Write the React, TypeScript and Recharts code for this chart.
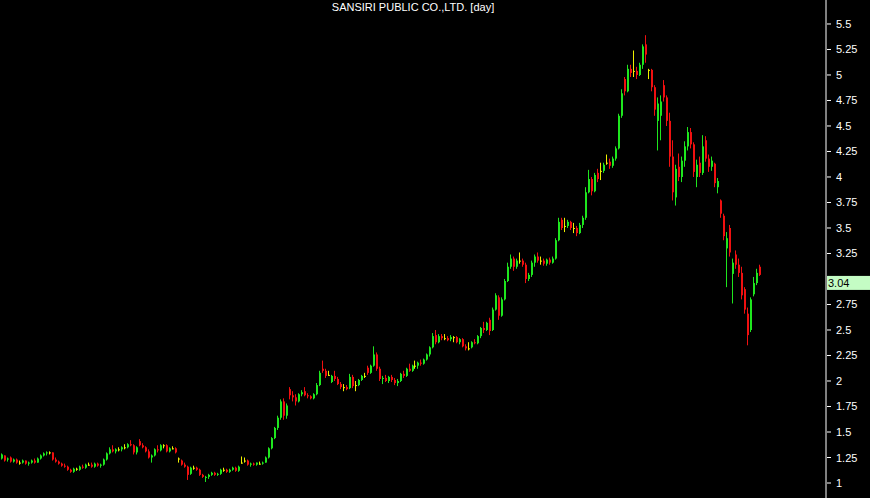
import { Bar, ComposedChart, ReferenceLine, XAxis, YAxis } from "recharts";

const title = "SANSIRI PUBLIC CO.,LTD. [day]";

const priceTicks = [1, 1.25, 1.5, 1.75, 2, 2.25, 2.5, 2.75, 3, 3.25, 3.5, 3.75, 4, 4.25, 4.5, 4.75, 5, 5.25, 5.5];

const lastPrice = 3.04;

// daily candles, one row per session: [open, high, low, close]
const candles: [number, number, number, number][] = [
  [1.24, 1.29, 1.23, 1.28], [1.27, 1.27, 1.21, 1.22], [1.23, 1.25, 1.21, 1.24], [1.25, 1.26, 1.2, 1.21], [1.21, 1.24, 1.2, 1.23],
  [1.23, 1.24, 1.19, 1.2], [1.2, 1.22, 1.18, 1.2], [1.2, 1.23, 1.19, 1.22], [1.22, 1.22, 1.18, 1.19], [1.19, 1.21, 1.17, 1.2],
  [1.2, 1.23, 1.19, 1.22], [1.22, 1.24, 1.19, 1.2], [1.2, 1.25, 1.2, 1.24], [1.24, 1.28, 1.23, 1.27], [1.27, 1.3, 1.26, 1.29],
  [1.29, 1.31, 1.27, 1.3], [1.3, 1.31, 1.28, 1.3], [1.3, 1.3, 1.22, 1.23], [1.23, 1.25, 1.2, 1.21], [1.21, 1.22, 1.18, 1.19],
  [1.19, 1.2, 1.16, 1.17], [1.17, 1.19, 1.15, 1.16], [1.16, 1.17, 1.12, 1.13], [1.13, 1.14, 1.1, 1.11], [1.11, 1.15, 1.1, 1.14],
  [1.14, 1.15, 1.12, 1.14], [1.13, 1.17, 1.12, 1.16], [1.16, 1.18, 1.14, 1.15], [1.15, 1.19, 1.14, 1.18], [1.18, 1.2, 1.17, 1.18],
  [1.18, 1.2, 1.15, 1.16], [1.16, 1.2, 1.15, 1.19], [1.19, 1.2, 1.16, 1.17], [1.17, 1.19, 1.15, 1.18], [1.18, 1.24, 1.17, 1.23],
  [1.23, 1.3, 1.22, 1.29], [1.29, 1.35, 1.28, 1.33], [1.33, 1.37, 1.3, 1.31], [1.31, 1.34, 1.29, 1.33], [1.33, 1.35, 1.31, 1.33],
  [1.33, 1.36, 1.31, 1.35], [1.35, 1.38, 1.33, 1.35], [1.35, 1.39, 1.34, 1.38], [1.38, 1.42, 1.36, 1.37], [1.37, 1.38, 1.28, 1.3],
  [1.3, 1.36, 1.28, 1.35], [1.41, 1.43, 1.36, 1.37], [1.37, 1.39, 1.34, 1.35], [1.35, 1.36, 1.3, 1.31], [1.31, 1.33, 1.24, 1.25],
  [1.25, 1.28, 1.2, 1.27], [1.27, 1.34, 1.26, 1.33], [1.33, 1.37, 1.3, 1.32], [1.32, 1.38, 1.31, 1.37], [1.37, 1.38, 1.34, 1.37],
  [1.37, 1.38, 1.3, 1.31], [1.31, 1.35, 1.3, 1.34], [1.34, 1.36, 1.33, 1.34], [1.34, 1.35, 1.29, 1.3], [1.24, 1.25, 1.2, 1.24],
  [1.22, 1.23, 1.17, 1.18], [1.18, 1.2, 1.15, 1.16], [1.16, 1.17, 1.03, 1.08], [1.09, 1.16, 1.08, 1.15], [1.15, 1.17, 1.13, 1.15],
  [1.15, 1.16, 1.12, 1.13], [1.13, 1.14, 1.07, 1.08], [1.08, 1.09, 1.05, 1.06], [1.05, 1.07, 1.01, 1.06], [1.06, 1.09, 1.04, 1.08],
  [1.08, 1.11, 1.07, 1.1], [1.1, 1.11, 1.07, 1.08], [1.08, 1.1, 1.07, 1.09], [1.09, 1.14, 1.08, 1.13], [1.13, 1.15, 1.11, 1.13],
  [1.13, 1.14, 1.1, 1.11], [1.11, 1.14, 1.1, 1.13], [1.13, 1.16, 1.12, 1.15], [1.15, 1.16, 1.11, 1.12], [1.12, 1.17, 1.11, 1.16],
  [1.2, 1.26, 1.19, 1.2], [1.22, 1.25, 1.2, 1.22], [1.22, 1.23, 1.17, 1.18], [1.18, 1.2, 1.16, 1.19], [1.19, 1.2, 1.17, 1.18],
  [1.18, 1.2, 1.17, 1.2], [1.19, 1.21, 1.18, 1.19], [1.19, 1.21, 1.18, 1.2], [1.2, 1.26, 1.2, 1.25], [1.25, 1.35, 1.24, 1.34],
  [1.34, 1.45, 1.33, 1.44], [1.44, 1.55, 1.43, 1.54], [1.54, 1.66, 1.52, 1.64], [1.64, 1.82, 1.62, 1.8], [1.8, 1.83, 1.62, 1.66],
  [1.66, 1.78, 1.63, 1.76], [1.92, 1.94, 1.82, 1.86], [1.86, 1.9, 1.8, 1.84], [1.84, 1.87, 1.76, 1.8], [1.8, 1.88, 1.79, 1.87],
  [1.87, 1.91, 1.85, 1.89], [1.9, 1.94, 1.85, 1.86], [1.86, 1.88, 1.83, 1.85], [1.85, 1.86, 1.82, 1.83], [1.83, 1.88, 1.82, 1.87],
  [1.87, 1.98, 1.86, 1.96], [1.96, 2.1, 1.95, 2.08], [2.12, 2.2, 2.08, 2.1], [2.1, 2.12, 2.03, 2.05], [2.06, 2.1, 2.05, 2.06],
  [1.99, 2.06, 1.98, 2.05], [2.05, 2.1, 2.0, 2.02], [2.02, 2.04, 1.96, 1.97], [1.97, 1.99, 1.92, 1.94], [1.94, 1.97, 1.9, 1.94],
  [1.94, 1.96, 1.91, 1.92], [1.93, 2.07, 1.92, 2.04], [2.04, 2.06, 1.93, 1.95], [1.96, 2.0, 1.9, 1.96], [1.96, 2.02, 1.95, 2.01],
  [2.01, 2.06, 2.0, 2.05], [2.05, 2.08, 2.03, 2.05], [2.13, 2.15, 2.06, 2.08], [2.08, 2.16, 2.07, 2.15], [2.15, 2.34, 2.14, 2.26],
  [2.26, 2.28, 2.1, 2.12], [2.12, 2.14, 2.0, 2.02], [2.02, 2.05, 1.97, 2.03], [2.03, 2.06, 1.99, 2.0], [2.0, 2.05, 1.98, 2.04],
  [2.04, 2.06, 1.99, 2.01], [2.01, 2.03, 1.96, 1.98], [1.98, 2.02, 1.95, 2.0], [2.0, 2.08, 1.99, 2.07], [2.07, 2.1, 2.03, 2.05],
  [2.05, 2.13, 2.04, 2.12], [2.12, 2.17, 2.09, 2.1], [2.1, 2.16, 2.09, 2.15], [2.15, 2.2, 2.12, 2.15], [2.15, 2.19, 2.12, 2.18],
  [2.18, 2.21, 2.15, 2.17], [2.17, 2.22, 2.16, 2.21], [2.21, 2.27, 2.2, 2.26], [2.26, 2.34, 2.24, 2.33], [2.33, 2.47, 2.32, 2.44],
  [2.45, 2.5, 2.36, 2.38], [2.38, 2.46, 2.37, 2.44], [2.44, 2.46, 2.4, 2.42], [2.42, 2.46, 2.4, 2.42], [2.42, 2.44, 2.39, 2.4],
  [2.41, 2.45, 2.39, 2.43], [2.43, 2.44, 2.38, 2.43], [2.43, 2.44, 2.37, 2.38], [2.38, 2.42, 2.36, 2.41], [2.41, 2.42, 2.33, 2.34],
  [2.34, 2.36, 2.3, 2.32], [2.32, 2.38, 2.3, 2.32], [2.33, 2.39, 2.32, 2.38], [2.38, 2.41, 2.36, 2.37], [2.37, 2.45, 2.36, 2.44],
  [2.44, 2.53, 2.42, 2.52], [2.52, 2.58, 2.47, 2.5], [2.5, 2.58, 2.49, 2.57], [2.6, 2.62, 2.45, 2.49], [2.5, 2.72, 2.49, 2.7],
  [2.7, 2.86, 2.69, 2.84], [2.82, 2.84, 2.6, 2.64], [2.64, 2.82, 2.63, 2.8], [2.8, 3.0, 2.79, 2.98], [2.98, 3.16, 2.97, 3.12],
  [3.12, 3.24, 3.1, 3.2], [3.2, 3.22, 3.08, 3.12], [3.12, 3.2, 3.1, 3.18], [3.18, 3.26, 3.15, 3.18], [3.18, 3.2, 3.12, 3.14],
  [3.14, 3.16, 2.96, 3.0], [3.0, 3.06, 2.98, 3.04], [3.04, 3.18, 3.02, 3.16], [3.16, 3.24, 3.12, 3.22], [3.22, 3.26, 3.16, 3.18],
  [3.18, 3.22, 3.14, 3.18], [3.18, 3.2, 3.13, 3.15], [3.15, 3.2, 3.13, 3.19], [3.19, 3.21, 3.14, 3.16], [3.16, 3.22, 3.15, 3.2],
  [3.2, 3.4, 3.19, 3.38], [3.38, 3.6, 3.37, 3.56], [3.58, 3.6, 3.48, 3.5], [3.52, 3.6, 3.46, 3.52], [3.52, 3.58, 3.5, 3.56],
  [3.56, 3.57, 3.48, 3.5], [3.5, 3.55, 3.45, 3.5], [3.5, 3.52, 3.42, 3.45], [3.45, 3.55, 3.44, 3.53], [3.53, 3.62, 3.5, 3.6],
  [3.6, 3.9, 3.58, 3.85], [3.85, 4.07, 3.84, 3.98], [3.98, 4.0, 3.82, 3.86], [3.86, 4.04, 3.85, 4.02], [4.04, 4.08, 3.95, 3.98],
  [4.06, 4.14, 3.97, 4.06], [4.06, 4.14, 4.04, 4.12], [4.14, 4.22, 4.12, 4.14], [4.15, 4.18, 4.08, 4.11], [4.11, 4.2, 4.09, 4.18],
  [4.18, 4.3, 4.16, 4.28], [4.28, 4.62, 4.27, 4.6], [4.6, 4.86, 4.58, 4.82], [4.96, 4.98, 4.8, 4.84], [4.84, 5.1, 4.83, 5.06],
  [5.06, 5.1, 4.98, 5.02], [5.04, 5.24, 4.98, 5.04], [5.04, 5.08, 4.96, 5.0], [5.0, 5.12, 4.99, 5.1], [5.1, 5.3, 5.06, 5.28],
  [5.3, 5.39, 5.12, 5.2], [5.05, 5.06, 4.96, 5.05], [5.05, 5.06, 4.84, 4.88], [4.88, 4.9, 4.6, 4.66], [4.55, 4.78, 4.26, 4.72],
  [4.6, 4.8, 4.36, 4.74], [4.9, 4.95, 4.74, 4.78], [4.78, 4.8, 4.5, 4.55], [4.55, 4.63, 4.1, 4.2], [4.2, 4.36, 3.77, 3.85],
  [3.8, 4.12, 3.72, 4.08], [4.1, 4.23, 3.96, 4.0], [4.0, 4.2, 3.95, 4.16], [4.16, 4.35, 4.1, 4.3], [4.3, 4.49, 4.26, 4.44],
  [4.44, 4.48, 4.28, 4.32], [4.32, 4.34, 4.0, 4.05], [4.0, 4.17, 3.9, 4.12], [4.14, 4.2, 4.0, 4.04], [4.04, 4.41, 4.02, 4.3],
  [4.36, 4.4, 4.15, 4.18], [4.18, 4.22, 4.05, 4.1], [4.1, 4.2, 4.06, 4.16], [4.13, 4.14, 3.9, 3.94], [3.9, 3.99, 3.84, 3.96],
  [3.77, 3.78, 3.6, 3.64], [3.62, 3.64, 3.38, 3.42], [3.3, 3.46, 2.92, 3.4], [3.5, 3.53, 3.22, 3.26], [3.05, 3.2, 2.76, 3.16],
  [3.24, 3.28, 3.1, 3.14], [3.14, 3.2, 3.02, 3.06], [3.06, 3.12, 2.8, 2.84], [2.9, 2.92, 2.66, 2.7], [2.66, 2.72, 2.35, 2.45],
  [2.5, 2.82, 2.48, 2.8], [2.85, 3.02, 2.83, 2.96], [2.96, 3.1, 2.94, 3.06], [3.12, 3.14, 3.03, 3.04],
];

const UP = "#1ee61e";
const DOWN = "#f01010";
const FLAT = "#eeee00";
const FONT = "Liberation Sans, Arial, sans-serif";

const data = candles.map(([open, high, low, close], i) => ({
  i,
  open,
  high,
  low,
  close,
  range: [low, high],
}));

function Candle(props: any) {
  const { x, y, height, payload } = props;
  if (y == null || height == null) return null;
  const { open, high, low, close } = payload;
  const per = height / (high - low);
  const yOpen = y + (high - open) * per;
  const yClose = y + (high - close) * per;
  const color = close > open ? UP : close < open ? DOWN : FLAT;
  const left = Math.round(x);
  const top = Math.min(yOpen, yClose);
  const bodyH = Math.max(1, Math.abs(yOpen - yClose));
  return (
    <g>
      <rect x={left} y={y} width={1} height={Math.max(1, height)} fill={color} />
      <rect x={left} y={top} width={2} height={bodyH} fill={color} />
    </g>
  );
}

// the last-price tag sits on top of the "3" tick, so that tick is left blank
function PriceTick(props: any) {
  const { x, y, payload } = props;
  if (Math.abs(payload.value - lastPrice) < 0.1) return null;
  return (
    <g>
      <line x1={x - 9} x2={x - 5} y1={y} y2={y} stroke="#fff" />
      <text x={x} y={y} dy={4} fill="#fff" fontSize={11} fontFamily={FONT}>
        {payload.value}
      </text>
    </g>
  );
}

function PriceTag(props: any) {
  const { viewBox } = props;
  if (!viewBox) return null;
  const x = viewBox.x + viewBox.width;
  const y = viewBox.y;
  return (
    <g>
      <rect x={x + 1} y={y + 1} width={44} height={14} fill="#c4fcc4" />
      <text x={x + 2} y={y + 12} fill="#000" fontSize={11} fontFamily={FONT}>
        {lastPrice.toFixed(2)}
      </text>
    </g>
  );
}

export default function App() {
  return (
    <div style={{ position: "absolute", left: 0, top: 0, width: 870, height: 498, background: "#000" }}>
      <ComposedChart width={870} height={498} data={data} margin={{ top: 0, right: 0, left: 0, bottom: 0 }}>
        <XAxis type="number" dataKey="i" domain={[-0.67, 274.67]} hide />
        <YAxis
          orientation="right"
          domain={[0.853, 5.735]}
          allowDataOverflow
          ticks={priceTicks}
          interval={0}
          width={44}
          stroke="#fff"
          tickLine={false}
          tickSize={4}
          tickMargin={6}
          tick={PriceTick}
        />
        <Bar dataKey="range" barSize={2} shape={Candle} isAnimationActive={false} />
        <ReferenceLine y={lastPrice} stroke="none" label={PriceTag} />
      </ComposedChart>
      <div
        style={{
          position: "absolute",
          left: 0,
          top: 0,
          width: 826,
          textAlign: "center",
          color: "#fff",
          fontSize: 11,
          lineHeight: "14px",
          fontFamily: FONT,
        }}
      >
        {title}
      </div>
    </div>
  );
}
